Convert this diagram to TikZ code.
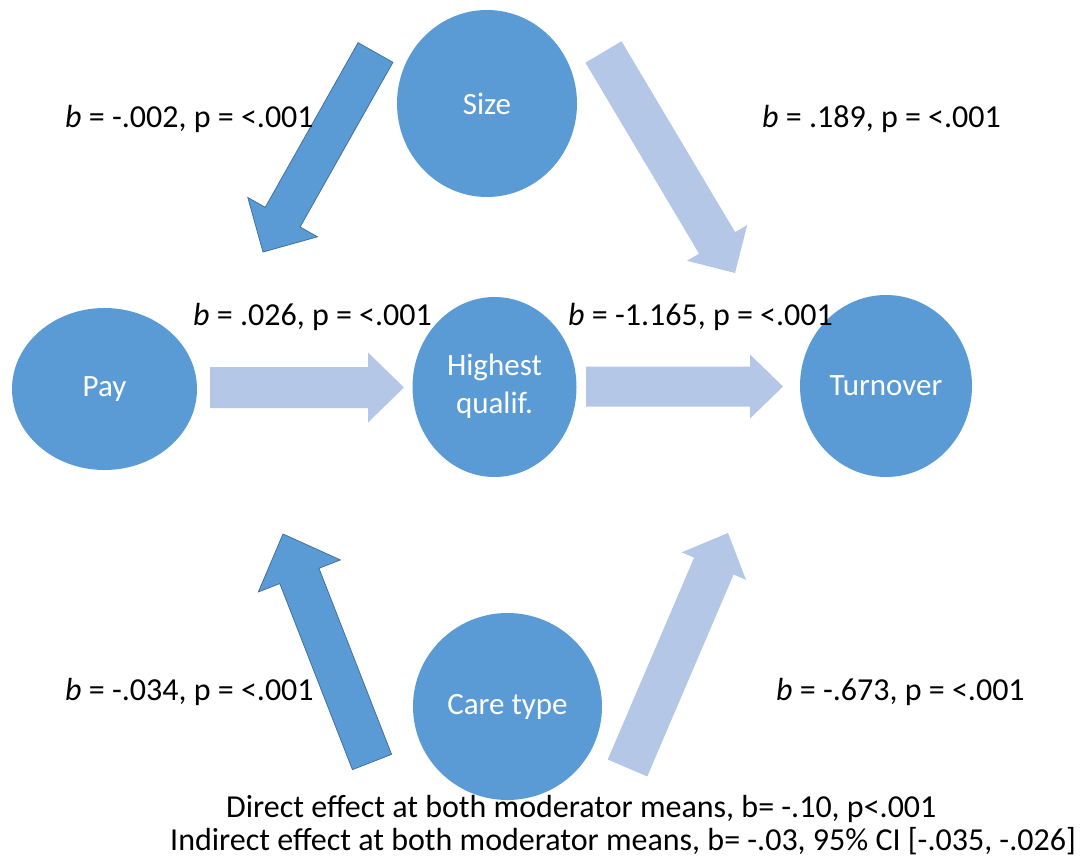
\documentclass[tikz,border=0pt]{standalone}
\usepackage{fontspec}
\setmainfont{Carlito}
\usetikzlibrary{calc,shapes.geometric}

\definecolor{nodeblue}{HTML}{5B9BD5}
\definecolor{edgeblue}{HTML}{41719C}
\definecolor{paleblue}{HTML}{B4C7E7}

% block arrow: style, tail, tip, shaft half width, head half width, head length
\newcommand\blockarrow[6]{%
  \coordinate (ba-base) at ($(#3)!#6!(#2)$);
  \path[#1] ($(#2)!#4!90:(#3)$) -- ($(ba-base)!#4!-90:(#2)$)
    -- ($(ba-base)!#5!-90:(#2)$) -- (#3) -- ($(ba-base)!#5!90:(#2)$)
    -- ($(ba-base)!#4!90:(#2)$) -- ($(#2)!#4!-90:(#3)$) -- cycle;}

\tikzset{
  var/.style={ellipse, fill=nodeblue, draw=none, text=white, inner sep=0pt,
    font=\fontsize{31}{32}\selectfont, align=center},
  strong/.style={fill=nodeblue, draw=edgeblue, line width=0.8pt, line join=miter},
  weak/.style={fill=paleblue, draw=none},
  coef/.style={anchor=base west, inner sep=0pt, font=\fontsize{32}{36}\selectfont},
  note/.style={inner sep=0pt, font=\fontsize{32}{36}\selectfont},
}

\begin{document}
\begin{tikzpicture}[x=1pt, y=-1pt]
\useasboundingbox (0,0) rectangle (1089,858);

% variables
\node[var, minimum width=180pt, minimum height=187pt] (size) at (487,103.5) {Size};
\node[var, minimum width=185pt, minimum height=162pt] (pay) at (104.5,389) {Pay};
\node[var, minimum width=164pt, minimum height=180pt] (hq) at (494.5,387) {};
\node[var, anchor=base] (hq1) at (494.5,375) {Highest};
\node[var, anchor=base] (hq2) at (494.5,413) {qualif.};
\node[var, minimum width=172pt, minimum height=182pt] (turn) at (886,386) {Turnover};
\node[var, minimum width=189pt, minimum height=187pt] (care) at (507.5,706.5) {Care type};

% arrow end points
\coordinate (a1t) at (375.5,52.5);  \coordinate (a1h) at (263,252);
\coordinate (a2t) at (603.5,52);    \coordinate (a2h) at (735,273);
\coordinate (a3t) at (210,387.5);   \coordinate (a3h) at (404,387.5);
\coordinate (a4t) at (586,386.5);   \coordinate (a4h) at (783,386.5);
\coordinate (a5t) at (372,762);     \coordinate (a5h) at (283,534);
\coordinate (a6t) at (627.5,768);   \coordinate (a6h) at (728,533);

\blockarrow{strong}{a1t}{a1h}{20pt}{40pt}{40pt}
\blockarrow{weak}{a2t}{a2h}{21pt}{35pt}{35pt}
\blockarrow{weak}{a3t}{a3h}{20.5pt}{35pt}{36pt}
\blockarrow{weak}{a4t}{a4h}{20pt}{32pt}{33pt}
\blockarrow{strong}{a5t}{a5h}{21pt}{44pt}{45pt}
\blockarrow{weak}{a6t}{a6h}{21.5pt}{35pt}{36pt}

% coefficients
\node[coef] (c1) at (65,128) {\textit{b} = -.002, p = <.001};
\node[coef] (c2) at (762,128) {\textit{b} = .189, p = <.001};
\node[coef] (c3) at (193,326) {\textit{b} = .026, p = <.001};
\node[coef] (c4) at (568,326) {\textit{b} = -1.165, p = <.001};
\node[coef] (c5) at (65,700) {\textit{b} = -.034, p = <.001};
\node[coef] (c6) at (776,700) {\textit{b} = -.673, p = <.001};

% effects
\node[note, anchor=base west] (d1) at (226,817) {Direct effect at both moderator means, b= -.10, p<.001};
\node[note, anchor=base east] (d2) at (1076,850) {Indirect effect at both moderator means, b= -.03, 95\% CI [-.035, -.026]};
\end{tikzpicture}
\end{document}
